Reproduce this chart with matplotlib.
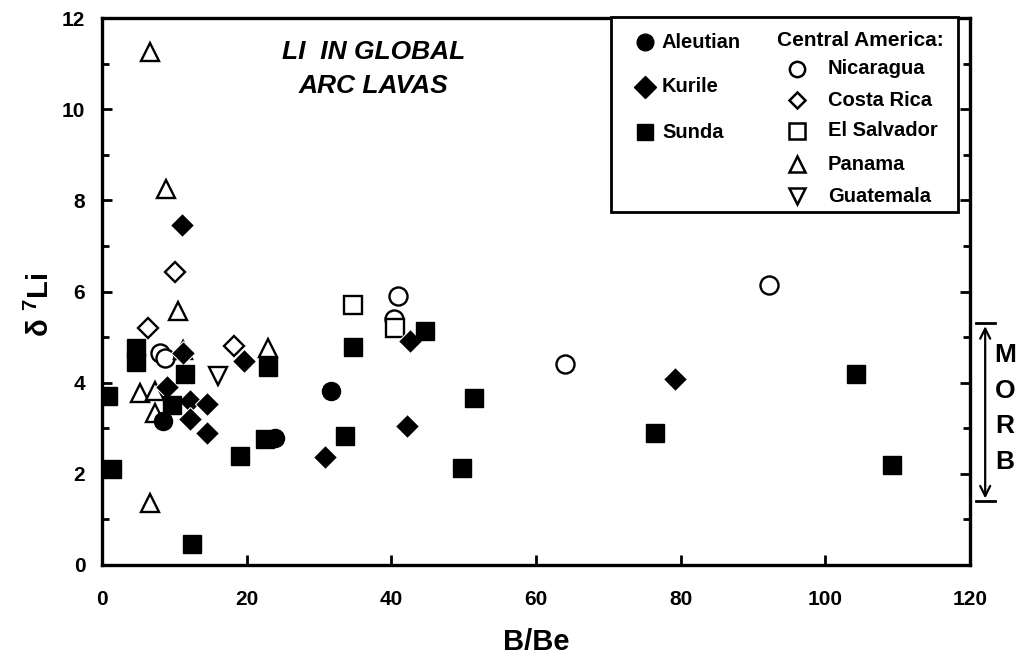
import matplotlib
matplotlib.use("Agg")
import matplotlib.pyplot as plt
from matplotlib.patches import Rectangle

plt.rcParams['font.family'] = ['Liberation Sans', 'DejaVu Sans']
plt.rcParams['font.weight'] = 'bold'
plt.rcParams['mathtext.fontset'] = 'custom'
plt.rcParams['mathtext.rm'] = 'Liberation Sans:bold'
plt.rcParams['mathtext.it'] = 'Liberation Sans:bold'

# ---- data (B/Be, delta7Li) ----
aleutian_x = [8.4, 23.9, 31.7]
aleutian_y = [3.17, 2.79, 3.82]

kurile_x = [11.1, 11.2, 9.0, 12.2, 14.5, 12.2, 14.5, 19.6, 30.8, 42.2, 42.6, 79.2]
kurile_y = [7.45, 4.66, 3.9, 3.6, 3.54, 3.2, 2.9, 4.48, 2.37, 3.05, 4.92, 4.09]

sunda_x = [0.8, 1.4, 4.7, 4.7, 11.5, 9.7, 12.4, 19.1, 23.0, 22.6, 34.7, 33.6,
           44.7, 51.4, 49.8, 76.5, 104.2, 109.2]
sunda_y = [3.7, 2.1, 4.77, 4.46, 4.2, 3.5, 0.46, 2.4, 4.35, 2.77, 4.79, 2.84,
           5.14, 3.67, 2.13, 2.9, 4.2, 2.2]

nicaragua_x = [8.0, 8.7, 40.9, 40.4, 64.0, 92.2]
nicaragua_y = [4.66, 4.55, 5.9, 5.4, 4.4, 6.15]

costarica_x = [10.1, 6.4, 18.2]
costarica_y = [6.42, 5.2, 4.81]

elsalvador_x = [34.7, 40.5]
elsalvador_y = [5.71, 5.2]

panama_x = [6.6, 8.85, 10.5, 11.2, 6.6, 23.0, 5.3, 7.3, 7.3]
panama_y = [11.25, 8.24, 5.58, 4.72, 1.36, 4.75, 3.78, 3.82, 3.34]

guatemala_x = [16.0]
guatemala_y = [4.15]

morb_range = [1.4, 5.3]

W, H = 1017, 661
fig = plt.figure(figsize=(W / 100, H / 100), dpi=100)
def fx(px): return px / W
def fy(py): return 1 - py / H

ax = fig.add_axes([fx(102), fy(565), fx(970) - fx(102), fy(18) - fy(565)])
ax.set_xlim(0, 120)
ax.set_ylim(0, 12)

k = 'black'
ms_c, ms_d, ms_s, ms_t = 13, 12, 13, 13
ew = 1.7
ax.plot(nicaragua_x, nicaragua_y, 'o', ms=ms_c, mfc='white', mec=k, mew=ew, ls='none')
ax.plot(costarica_x, costarica_y, 'D', ms=ms_d * 0.82, mfc='white', mec=k, mew=ew, ls='none')
ax.plot(elsalvador_x, elsalvador_y, 's', ms=ms_s, mfc='white', mec=k, mew=ew, ls='none')
ax.plot(panama_x, panama_y, '^', ms=ms_t, mfc='white', mec=k, mew=ew, ls='none')
ax.plot(guatemala_x, guatemala_y, 'v', ms=ms_t, mfc='white', mec=k, mew=ew, ls='none')
ax.plot(aleutian_x, aleutian_y, 'o', ms=ms_c, color=k, ls='none')
ax.plot(kurile_x, kurile_y, 'D', ms=ms_d, color=k, mec='white', mew=0.8, ls='none')
ax.plot(sunda_x, sunda_y, 's', ms=ms_s, color=k, ls='none')

# axes styling
for s in ax.spines.values():
    s.set_linewidth(2.4)
ax.set_xticks([0, 20, 40, 60, 80, 100, 120])
ax.set_yticks([0, 2, 4, 6, 8, 10, 12])
ax.set_yticks([1, 3, 5, 7, 9, 11], minor=True)
ax.tick_params(axis='both', direction='in', width=2, length=7, labelsize=15)
ax.tick_params(axis='x', pad=18)
ax.tick_params(axis='y', pad=12)
ax.tick_params(axis='y', which='both', right=True)
ax.tick_params(axis='y', which='minor', direction='in', width=2, length=5)
for lab in ax.get_xticklabels() + ax.get_yticklabels():
    lab.set_fontweight('bold')

ax.set_xlabel('B/Be', fontsize=21, fontweight='bold', labelpad=14)
ax.set_ylabel(r'$\delta\ ^{7}$Li', fontsize=21, fontweight='bold')
ax.yaxis.set_label_coords(-0.054, 0.475)

# title text
ax.text(37.5, 11.25, 'LI  IN GLOBAL', fontsize=19, style='italic', ha='center', va='center')
ax.text(37.5, 10.5, 'ARC LAVAS', fontsize=19, style='italic', ha='center', va='center')

# legend box (manual)
fig.patches.append(Rectangle((fx(611), fy(212)), fx(958) - fx(611), fy(17) - fy(212),
                             transform=fig.transFigure, fill=True, fc='white',
                             ec=k, lw=2, zorder=5))
left_items = [('o', 'Aleutian', 42), ('D', 'Kurile', 87), ('s', 'Sunda', 132)]
for m, t, py in left_items:
    msz = 12 if m != 'D' else 11
    fig.lines.append(plt.Line2D([fx(645)], [fy(py)], marker=m, ms=msz, color=k,
                                ls='none', transform=fig.transFigure, zorder=6))
    fig.text(fx(662), fy(py), t, fontsize=14.5, fontweight='bold', va='center', ha='left', zorder=7)
fig.text(fx(777), fy(40), 'Central America:', fontsize=15, fontweight='bold',
         va='center', ha='left', zorder=7)
right_items = [('o', 'Nicaragua', 69), ('D', 'Costa Rica', 100), ('s', 'El Salvador', 131),
               ('^', 'Panama', 164), ('v', 'Guatemala', 196)]
for m, t, py in right_items:
    msz = 11 if m != 'D' else 8.5
    fig.lines.append(plt.Line2D([fx(797)], [fy(py)], marker=m, ms=msz, mfc='white', mec=k,
                                mew=1.8, ls='none', transform=fig.transFigure, zorder=6))
    fig.text(fx(828), fy(py), t, fontsize=14.5, fontweight='bold', va='center', ha='left', zorder=7)

# MORB range indicator
xm = 122.1
ax.annotate('', xy=(xm, morb_range[1]), xytext=(xm, morb_range[0]),
            arrowprops=dict(arrowstyle='<->', lw=1.6, color=k, mutation_scale=18),
            annotation_clip=False)
for yv in morb_range:
    ax.plot([xm - 1.3, xm + 1.3], [yv, yv], color=k, lw=2, clip_on=False)
for i, ch in enumerate('MORB'):
    ax.text(124.8, 4.6 - i * 0.78, ch, fontsize=19, fontweight='bold', ha='center',
            va='center', clip_on=False)

fig.savefig('out.png', dpi=100)
